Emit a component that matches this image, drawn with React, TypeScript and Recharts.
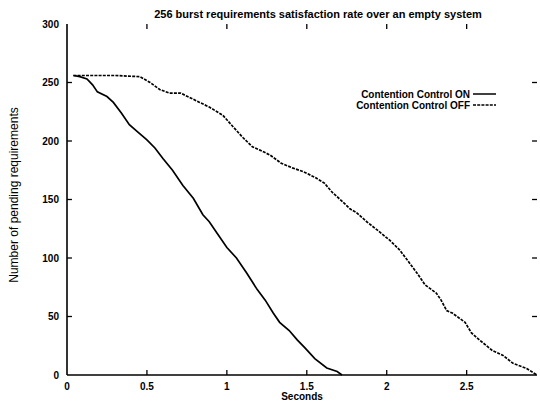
import React from 'react';
import { LineChart, Line, XAxis, YAxis, ReferenceLine } from 'recharts';

// Contention control ON: time (s) and pending requirements
const onSeconds = [0.04, 0.08, 0.125, 0.16, 0.19, 0.25, 0.29, 0.34, 0.39, 0.44, 0.5, 0.55, 0.6, 0.66, 0.725, 0.79, 0.85, 0.89, 0.94, 1.0, 1.06, 1.125, 1.19, 1.24, 1.29, 1.33, 1.39, 1.44, 1.49, 1.55, 1.625, 1.69, 1.72];
const onPending = [256, 255, 253, 248, 242, 238, 233, 224, 214, 208, 201, 194, 185, 175, 162, 151, 137, 131, 121, 109, 100, 87, 73, 64, 53, 45, 38, 30, 23, 14, 6, 3, 0];

// Contention control OFF
const offSeconds = [0.04, 0.3, 0.456, 0.52, 0.58, 0.64, 0.71, 0.77, 0.83, 0.89, 0.975, 1.04, 1.1, 1.16, 1.21, 1.27, 1.34, 1.41, 1.475, 1.55, 1.61, 1.66, 1.725, 1.77, 1.81, 1.875, 1.94, 2.02, 2.08, 2.13, 2.19, 2.24, 2.31, 2.34, 2.375, 2.41, 2.49, 2.53, 2.58, 2.66, 2.725, 2.79, 2.875, 2.94];
const offPending = [256, 256, 255, 250, 244, 241, 241, 237, 233, 229, 222, 212, 203, 195, 192, 188, 181, 177, 174, 169, 164, 156, 148, 142, 139, 131, 124, 115, 107, 98, 87, 77, 70, 64, 55, 53, 45, 36, 30, 21, 17, 10, 5.6, 0];

const xTicks = [0, 0.5, 1, 1.5, 2, 2.5];
const yTicks = [0, 50, 100, 150, 200, 250, 300];

const title = '256 burst requirements satisfaction rate over an empty system';
const seriesNames = ['Contention Control ON', 'Contention Control OFF'];

const onData = onSeconds.map((t, i) => ({ t, v: onPending[i] }));
const offData = offSeconds.map((t, i) => ({ t, v: offPending[i] }));

const X_MAX = 2.94;
const Y_MAX = 300;
// inward tick length in data units (about 5 px on each axis)
const X_TICK_LEN = 0.031;
const Y_TICK_LEN = 4.3;

const FONT = '"Liberation Sans", Arial, Helvetica, sans-serif';
const tickStyle = { fontFamily: FONT, fontSize: 10, fontWeight: 700, fill: '#000' };

export default function App() {
  const innerX = xTicks.filter((t) => t > 0 && t < X_MAX);
  const innerY = yTicks.filter((v) => v > 0 && v < Y_MAX);
  return (
    <div style={{ position: 'absolute', left: 0, top: 0, width: 540, height: 403, background: '#fff' }}>
      <LineChart width={540} height={403} margin={{ top: 24, right: 3, left: 0, bottom: 0 }}>
        <XAxis
          xAxisId="bottom"
          type="number"
          dataKey="t"
          domain={[0, X_MAX]}
          ticks={xTicks}
          allowDataOverflow
          height={28}
          stroke="#000"
          strokeWidth={1.6}
          tickLine={false}
          tickSize={0}
          tickMargin={8}
          tick={tickStyle}
          label={{
            content: ({ viewBox }: any) => (
              <text x={viewBox.x + viewBox.width / 2} y={400} textAnchor="middle" fontFamily={FONT} fontSize={10} fontWeight={700} fill="#000">
                Seconds
              </text>
            ),
          }}
        />
        <XAxis
          xAxisId="top"
          orientation="top"
          type="number"
          dataKey="t"
          domain={[0, X_MAX]}
          ticks={xTicks}
          allowDataOverflow
          height={0}
          stroke="#000"
          strokeWidth={1.6}
          tickLine={false}
          tick={false}
        />
        <YAxis
          yAxisId="left"
          type="number"
          domain={[0, Y_MAX]}
          ticks={yTicks}
          width={67}
          stroke="#000"
          strokeWidth={1.6}
          tickLine={false}
          tickSize={0}
          tickMargin={8}
          tick={tickStyle}
          label={{
            content: () => (
              <text x={14} y={195} transform="rotate(-90 14 195)" textAnchor="middle" dominantBaseline="central" fontFamily={FONT} fontSize={12} fill="#000">
                Number of pending requirements
              </text>
            ),
          }}
        />
        <YAxis
          yAxisId="right"
          orientation="right"
          type="number"
          domain={[0, Y_MAX]}
          ticks={yTicks}
          width={0}
          stroke="#000"
          strokeWidth={1.6}
          tickLine={false}
          tick={false}
        />
        {innerX.map((t) => (
          <ReferenceLine key={`xb${t}`} xAxisId="bottom" yAxisId="left" segment={[{ x: t, y: 0 }, { x: t, y: Y_TICK_LEN }]} stroke="#000" strokeWidth={1.3} ifOverflow="visible" />
        ))}
        {innerX.map((t) => (
          <ReferenceLine key={`xt${t}`} xAxisId="bottom" yAxisId="left" segment={[{ x: t, y: Y_MAX }, { x: t, y: Y_MAX - Y_TICK_LEN }]} stroke="#000" strokeWidth={1.3} ifOverflow="visible" />
        ))}
        {innerY.map((v) => (
          <ReferenceLine key={`yl${v}`} xAxisId="bottom" yAxisId="left" segment={[{ x: 0, y: v }, { x: X_TICK_LEN, y: v }]} stroke="#000" strokeWidth={1.3} ifOverflow="visible" />
        ))}
        {innerY.map((v) => (
          <ReferenceLine key={`yr${v}`} xAxisId="bottom" yAxisId="left" segment={[{ x: X_MAX - X_TICK_LEN, y: v }, { x: X_MAX, y: v }]} stroke="#000" strokeWidth={1.3} ifOverflow="visible" />
        ))}
        <Line
          xAxisId="bottom"
          yAxisId="left"
          data={onData}
          dataKey="v"
          name={seriesNames[0]}
          type="linear"
          stroke="#000"
          strokeWidth={1.7}
          dot={false}
          isAnimationActive={false}
        />
        <Line
          xAxisId="bottom"
          yAxisId="left"
          data={offData}
          dataKey="v"
          name={seriesNames[1]}
          type="linear"
          stroke="#000"
          strokeWidth={1.7}
          strokeDasharray="3 1.2"
          dot={false}
          isAnimationActive={false}
        />
      </LineChart>
      <div
        style={{
          position: 'absolute',
          left: 318,
          top: 14,
          transform: 'translate(-50%, -50%)',
          whiteSpace: 'nowrap',
          fontFamily: FONT,
          fontSize: 11,
          fontWeight: 700,
          lineHeight: '13px',
        }}
      >
        {title}
      </div>
      <svg style={{ position: 'absolute', left: 0, top: 0 }} width={540} height={403} pointerEvents="none">
        <g fontFamily={FONT} fontSize={10} fontWeight={700} fill="#000">
          <text x={470} y={94} textAnchor="end" dominantBaseline="central">{seriesNames[0]}</text>
          <text x={470} y={105} textAnchor="end" dominantBaseline="central">{seriesNames[1]}</text>
        </g>
        <line x1={473} x2={496} y1={94} y2={94} stroke="#000" strokeWidth={1.5} />
        <line x1={473} x2={496} y1={105} y2={105} stroke="#000" strokeWidth={1.5} strokeDasharray="3 1.2" />
      </svg>
    </div>
  );
}
